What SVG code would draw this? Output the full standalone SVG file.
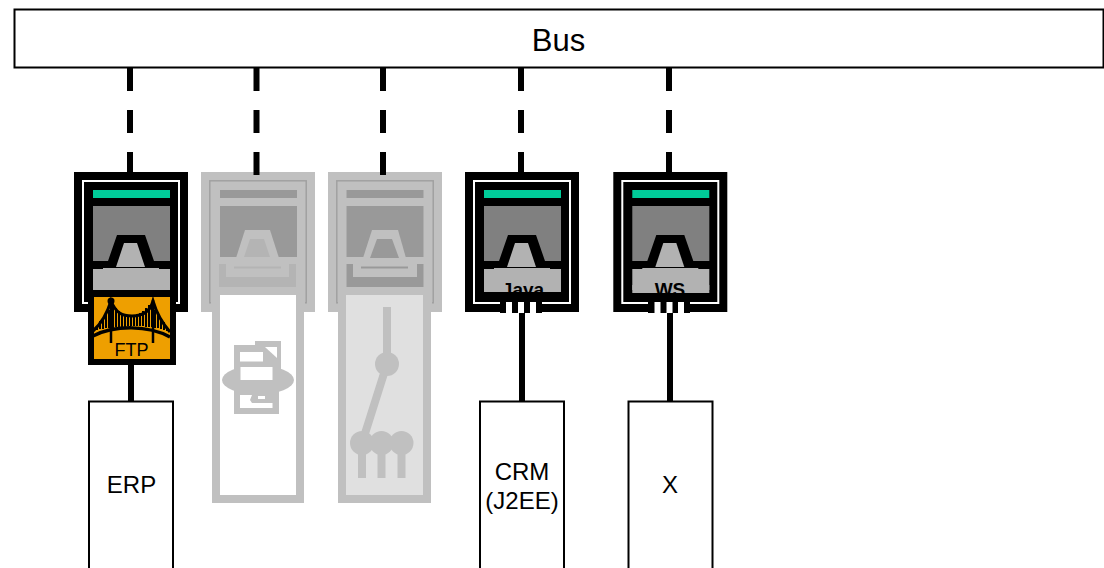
<svg xmlns="http://www.w3.org/2000/svg" width="1104" height="568" viewBox="0 0 1104 568">
<style>
text{font-family:"Liberation Sans",Arial,sans-serif;fill:#000;text-anchor:middle}
.box{fill:#fff;stroke:#000;stroke-width:2}
.t{font-size:24px}
.b{font-size:19px;font-weight:bold}
.wire{fill:none;stroke:#000;stroke-width:6}
.dash{stroke-dasharray:23 19}
.k{fill:#000}.w{fill:none;stroke:#fff;stroke-width:2}.g{fill:#00cc99}.p{fill:#808080}.l{fill:#b2b2b2}
.ok{fill:#c0c0c0}.ol{fill:none;stroke:#a0a0a0;stroke-width:1.5}.op{fill:#999}.ob{fill:#b4b4b4}
.s{fill:none;stroke:#c0c0c0;stroke-width:8}
</style>
<defs>
<g id="active">
<rect class="k" x="74" y="172" width="114" height="140"/>
<rect class="w" x="83" y="181" width="96" height="122"/>
<rect class="g" x="93" y="190" width="77" height="8"/>
<rect class="p" x="93" y="206" width="77" height="55"/>
<path class="k" d="M90 261H108L117 235H145L154 261H172V269H90Z"/>
<path class="l" d="M116 267 124 243H137L145 267Z"/>
<path class="l" d="M93 269H103V268H159V269H170V290H93Z"/>
</g>
<g id="idle">
<rect class="ok" x="201" y="172" width="114" height="140"/>
<rect class="ol" x="209.8" y="180.8" width="96.4" height="122"/>
<rect class="ok" x="211" y="183" width="94" height="125"/>
<rect class="op" x="220" y="190" width="77" height="8"/>
<rect class="op" x="220" y="206" width="77" height="51"/>
<path class="ok" d="M236 258 245 230H270L279 258Z"/>
</g>
</defs>
<g id="bus"><rect class="box" x="14.500" y="9.500" width="1089" height="58"/><text x="558.500" y="50.500" style="font-size:31px">Bus</text></g>
<g id="node-erp-adapter">
<use href="#active"/>
<rect class="k" x="88" y="290" width="88" height="75"/>
<rect x="94" y="297" width="76" height="62" fill="#ee9f00"/>
<path fill="none" stroke="#000" stroke-width="2" d="M97 330V326M100 329V321M103 329V318M106 328V314M109 328V310M113 328V305M116 327V308M119 327V311M122 327V313M125 327V314M128 326V315M131 326V316M134 326V315M137 326V314M140 326V313M143 326V311M146 327V308M149 327V305M152 327V305M155 328V310M158 328V314M161 329V318M164 330V322M167 331V327"/>
<path fill="none" stroke="#000" stroke-width="3" d="M93 331C101 324 107 314 111 301C116 313 122 316 132 316C143 316 150 312 153 301C157 315 163 324 170 332"/>
<circle cx="111" cy="301" r="3.500"/>
<path fill="none" stroke="#000" stroke-width="2.500" d="M153 300V343"/>
<path fill="none" stroke="#000" stroke-width="2.500" d="M111 300V343"/>
<path fill="none" stroke="#000" stroke-width="3.500" d="M93 336C115 325 148 325 170 337"/>
<text x="131.500" y="356" style="font-size:18px">FTP</text>
</g>
<g id="node-file-adapter">
<use href="#idle"/>
<rect class="ob" x="219" y="264" width="77" height="23"/>
<path class="ok" d="M226 263H289V277H226Z"/>
<rect class="ob" x="234" y="266.500" width="47" height="2"/>
<path class="ob" d="M244 257 250 239H264L270 257Z"/>
<rect class="ok" x="212" y="295" width="92" height="208"/>
<rect x="220" y="295" width="76" height="200" fill="#fff"/>
<g fill="#c0c0c0">
<path d="M255 341H281V385H255Z"/>
<rect x="234" y="345" width="45" height="69"/>
<ellipse cx="258" cy="380" rx="36" ry="14.500"/>
</g>
<g fill="#fff">
<rect x="240" y="352" width="23" height="9.500"/>
<path d="M265 347H277V358Z"/>
<rect x="240.500" y="367" width="32" height="13"/>
<path d="M240 395H252L250 400 252 403H272.500V408H240Z"/>
<rect x="258" y="396" width="7" height="3"/>
</g>
</g>
<g id="node-switch-adapter">
<rect class="ok" x="328" y="172" width="114" height="140"/>
<rect class="ol" x="336.800" y="180.800" width="96.400" height="122"/>
<rect class="ok" x="338" y="183" width="94" height="125"/>
<rect class="op" x="346.500" y="190" width="77" height="8"/>
<rect class="op" x="346.500" y="206" width="77" height="51"/>
<rect class="op" x="346.500" y="264" width="77" height="23"/>
<path class="ok" d="M363 258 372 230H398L406 258Z"/>
<path class="op" d="M370 258 377 239H392L399 258Z"/>
<path class="ok" d="M353 263H417V277H353Z"/>
<rect class="op" x="361" y="266.500" width="47" height="2"/>
<rect class="ok" x="338" y="295" width="93" height="208"/>
<rect x="346" y="295" width="77" height="200" fill="#e0e0e0"/>
<path class="s" d="M387 307V364L362 443M362 443V478M381.500 443V478M401.500 443V478"/>
<g fill="#c0c0c0"><circle cx="387" cy="364" r="12"/><circle cx="362" cy="443" r="12"/><circle cx="381.500" cy="443" r="12"/><circle cx="401.500" cy="443" r="12"/></g>
</g>
<g id="node-java-adapter">
<use href="#active" x="391"/>
<rect class="l" x="484" y="285" width="77" height="7"/>
<text class="b" x="523" y="295.500">Java</text>
<rect class="k" x="500" y="301" width="42" height="12"/>
<g fill="#fff"><rect x="506" y="302" width="6" height="11"/><rect x="518" y="302" width="6" height="11"/><rect x="530" y="302" width="6" height="11"/></g>
</g>
<g id="node-ws-adapter">
<use href="#active" x="539.300"/>
<rect class="l" x="632.300" y="285" width="77" height="8"/>
<text class="b" x="670" y="295.500">WS</text>
<rect class="k" x="648" y="301" width="42" height="12"/>
<g fill="#fff"><rect x="654.500" y="302" width="6" height="11"/><rect x="666.500" y="302" width="6" height="11"/><rect x="678" y="302" width="6" height="11"/></g>
</g>
<g id="node-erp"><rect class="box" x="89" y="401.500" width="84" height="180"/><text class="t" x="131.500" y="493">ERP</text></g>
<g id="node-crm"><rect class="box" x="480" y="401.500" width="84" height="180"/><text class="t" x="522" y="480">CRM</text><text class="t" x="522" y="509">(J2EE)</text></g>
<g id="node-x"><rect class="box" x="628.500" y="401.500" width="84" height="180"/><text class="t" x="670" y="493">X</text></g>
<g id="connectors">
<path class="wire dash" d="M130 68V172"/>
<path class="wire dash" d="M256.500 68V175"/>
<path class="wire dash" d="M383 68V175"/>
<path class="wire dash" d="M521 68V172"/>
<path class="wire dash" d="M669 68V172"/>
<path class="wire" d="M131 364V401"/>
<path class="wire" d="M522 313V401"/>
<path class="wire" d="M670 313V401"/>
</g>
</svg>
